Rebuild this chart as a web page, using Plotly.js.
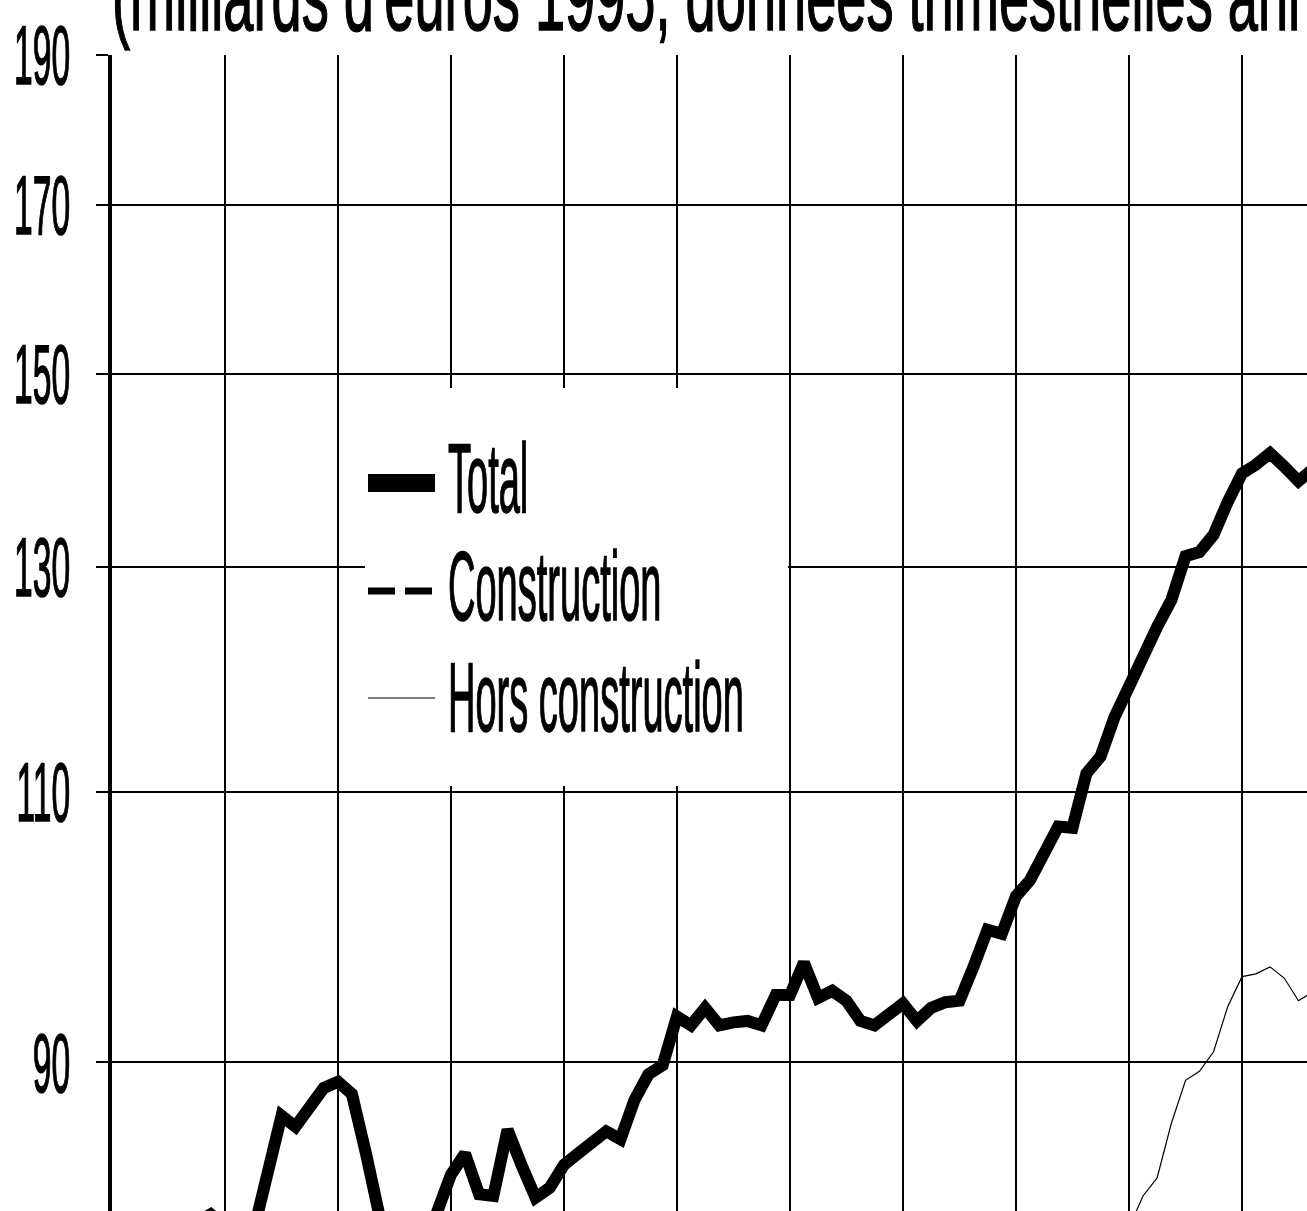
<!DOCTYPE html>
<html lang="fr">
<head>
<meta charset="utf-8">
<script src="https://cdn.plot.ly/plotly-3.0.1.min.js"></script>
<style>
  html, body { margin: 0; padding: 0; overflow: hidden; background: #fff; }
</style>
</head>
<body>
<div id="graph"></div>
<script>
// séries trimestrielles, premier trimestre = 1970 T1
const firstYear = 1970;

const total = [
  77.5, 78.0, 78.3, 78.8, 79.0, 79.4, 79.8, 80.4, 79.7, 79.0,
  79.3, 83.0, 86.5, 85.8, 87.0, 88.3, 88.7, 87.9, 84.1, 80.1,
  78.5, 77.8, 78.2, 80.4, 82.8, 84.1, 81.6, 81.5, 85.6, 83.4,
  81.4, 82.0, 83.4, 84.1, 84.8, 85.5, 85.0, 87.5, 89.2, 89.8,
  93.1, 92.5, 93.7, 92.5, 92.7, 92.8, 92.5, 94.6, 94.6, 96.9,
  94.4, 94.9, 94.2, 92.8, 92.5, 93.3, 94.0, 92.8, 93.7, 94.1,
  94.2, 96.6, 99.3, 99.0, 101.8, 103.0, 105.2, 107.2, 107.1, 111.5,
  112.9, 116.3, 118.9, 121.9, 124.3, 126.8, 131.0, 131.4, 133.1, 136.4,
  139.3, 140.2, 141.4, 140.0, 138.5, 139.7
];

// hors construction : visible à partir de 1988 T1
const horsStart = 72;
const horsConstruction = [
  79.6, 81.5, 82.6, 86.0, 88.8, 89.4, 90.7, 93.8, 95.9, 96.1,
  96.6, 95.8, 94.2, 94.8
];

// construction : sous l'échelle visible
const constructionStart = 72;
const construction = [
  39.3, 40.4, 41.7, 40.8, 42.2, 42.0, 42.4, 42.6, 43.4, 44.1,
  44.8, 44.2, 44.3, 44.9
];

const yTicks = [90, 110, 130, 150, 170, 190];

function quarterDate(q) {
  const y = firstYear + Math.floor(q / 4);
  const m = 1 + 3 * (q % 4);
  return y + '-' + (m < 10 ? '0' + m : m) + '-01';
}
function dates(start, n) {
  const out = [];
  for (let i = 0; i < n; i++) out.push(quarterDate(start + i));
  return out;
}

const FONT = 'Liberation Sans, Arial, sans-serif';
const W = 1498, H = 1481;
const M = { l: 112, r: 30, t: 55, b: 80 };
const plotW = W - M.l - M.r, plotH = H - M.t - M.b;
// pixel de la page -> coordonnées "paper"
const px = X => (X - M.l) / plotW;
const py = Y => 1 - (Y - M.t) / plotH;

const traces = [
  {
    name: 'Total',
    x: dates(0, total.length),
    y: total,
    type: 'scatter',
    mode: 'lines',
    line: { color: '#000', width: 12 }
  },
  {
    name: 'Construction',
    x: dates(constructionStart, construction.length),
    y: construction,
    type: 'scatter',
    mode: 'lines',
    line: { color: '#000', width: 5, dash: 'dash' }
  },
  {
    name: 'Hors construction',
    x: dates(horsStart, horsConstruction.length),
    y: horsConstruction,
    type: 'scatter',
    mode: 'lines',
    line: { color: '#000', width: 1.2 }
  }
];

// légende dessinée à la main (symboles longs, comme l'original)
const legendRows = [
  { text: 'Total', textY: 478, lineY: 483, line: { color: '#000', width: 18 } },
  { text: 'Construction', textY: 586, lineY: 591, line: { color: '#000', width: 7, dash: '27px,10px' } },
  { text: 'Hors construction', textY: 697, lineY: 698, line: { color: '#000', width: 1.2 } }
];

const shapes = [{
  type: 'rect', xref: 'paper', yref: 'paper', layer: 'above',
  x0: px(365), x1: px(788), y0: py(786), y1: py(388),
  fillcolor: '#fff', line: { width: 0 }
}];
const annotations = [];
legendRows.forEach(function (r) {
  shapes.push({
    type: 'line', xref: 'paper', yref: 'paper', layer: 'above',
    x0: px(368), x1: px(435), y0: py(r.lineY), y1: py(r.lineY),
    line: r.line
  });
  annotations.push({
    text: r.text, showarrow: false,
    xref: 'paper', yref: 'paper',
    x: px(446), y: py(r.textY), xanchor: 'left', yanchor: 'middle', align: 'left',
    font: { family: FONT, size: 98, color: '#000' }
  });
});

const layout = {
  width: W,
  height: H,
  margin: M,
  paper_bgcolor: '#fff',
  plot_bgcolor: '#fff',
  font: { family: FONT, color: '#000' },
  showlegend: false,
  title: {
    text: "(milliards d'euros 1995, données trimestrielles annualisées)",
    font: { family: FONT, size: 98, color: '#000' },
    xref: 'paper', x: 0, xanchor: 'left',
    yref: 'container', y: 1 - 30 / H, yanchor: 'bottom'
  },
  xaxis: {
    type: 'date',
    range: ['1970-01-01', '1994-01-01'],
    tick0: '1970-01-01',
    dtick: 'M24',
    tickformat: '%Y',
    showticklabels: false,
    showgrid: true,
    gridcolor: '#000',
    gridwidth: 2,
    zeroline: false,
    showline: false,
    ticks: '',
    fixedrange: true
  },
  yaxis: {
    type: 'log',
    range: [Math.log10(70), Math.log10(190)],
    tickmode: 'array',
    tickvals: yTicks,
    ticktext: yTicks.map(String),
    showgrid: true,
    gridcolor: '#000',
    gridwidth: 2,
    showline: true,
    linecolor: '#000',
    linewidth: 4,
    ticks: 'outside',
    ticklen: 12,
    tickwidth: 2,
    tickcolor: '#000',
    ticklabelstandoff: 9,
    tickfont: { family: FONT, size: 84 },
    zeroline: false,
    fixedrange: true
  },
  shapes: shapes,
  annotations: annotations
};

// le graphique d'origine utilise une police très étroite
function squeeze(gd) {
  gd.querySelectorAll('text').forEach(function (t) {
    const w = t.getComputedTextLength();
    if (!w) return;
    let f = 0.40;
    if (t.closest('.annotation')) f = 0.388;
    else if (t.classList.contains('gtitle')) f = 0.553;
    t.setAttribute('textLength', (w * f).toFixed(1));
    t.setAttribute('lengthAdjust', 'spacingAndGlyphs');
    t.style.stroke = '#000';
    t.style.strokeWidth = '1.6px';
  });
}

Plotly.newPlot('graph', traces, layout, { staticPlot: true, displayModeBar: false })
  .then(squeeze);
</script>
</body>
</html>
